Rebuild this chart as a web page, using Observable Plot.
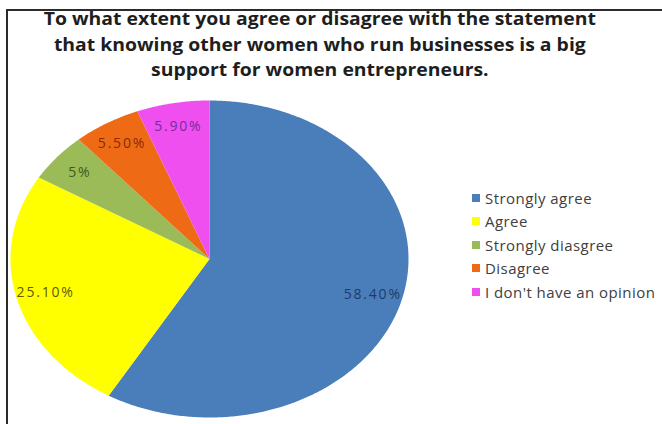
<!DOCTYPE html>
<html><head><meta charset="utf-8">
<script src="https://cdn.jsdelivr.net/npm/d3@7"></script>
<script src="https://cdn.jsdelivr.net/npm/@observablehq/plot@0.6"></script>
<style>
body{margin:0;background:#fff;}
#wrap{position:relative;width:662px;height:424px;overflow:hidden;background:#fff;font-family:"Open Sans",sans-serif;}
#frame{position:absolute;left:6px;top:9px;width:800px;height:600px;border-left:2px solid #2b2b2b;border-top:2px solid #2b2b2b;}
#title{position:absolute;left:0;top:6px;width:640px;text-align:center;font-weight:700;font-size:17px;line-height:25.5px;color:#1e1e1e;transform:scaleX(1.14);transform-origin:321px 0;}
#chart{position:absolute;left:0;top:0;}
#legend{position:absolute;left:472px;top:186px;width:320px;}
#legend .leg-swatch{height:23.5px;padding:0;display:flex;align-items:center;}
#legend .leg-swatch > svg{margin-right:5px;}
#legend .leg-swatch-label{overflow:visible;text-overflow:clip;white-space:nowrap;letter-spacing:0.45px;}
</style>
</head><body>
<div id="wrap">
  <div id="frame"></div>
  <div id="title">To what extent you agree or disagree with the statement<br>that knowing other women who run businesses is a big<br>support for women entrepreneurs.</div>
  <div id="chart"></div>
  <div id="legend"></div>
</div>
<script>
const categories = ["Strongly agree", "Agree", "Strongly diasgree", "Disagree", "I don't have an opinion"];
const values = [58.4, 25.1, 5, 5.5, 5.9];
const pieLabels = ["58.40%", "25.10%", "5%", "5.50%", "5.90%"];
const colors = ["#4a7ebb", "#ffff00", "#9bbb59", "#ef6a14", "#ee4fee"];
const labelColors = ["#1f3a66", "#5c5c00", "#3e5a1c", "#8a2a06", "#7a2a9a"];

const arcs = d3.pie().sort(null).value(d => d)(values);
const pts = [];
arcs.forEach((a, i) => {
  pts.push({cat: categories[i], x: 0, y: 0});
  const n = Math.max(4, Math.ceil((a.endAngle - a.startAngle) / 0.01));
  for (let k = 0; k <= n; k++) {
    const t = a.startAngle + (a.endAngle - a.startAngle) * k / n;
    pts.push({cat: categories[i], x: Math.sin(t), y: Math.cos(t)});
  }
});
const lbl = arcs.map((a, i) => {
  const m = (a.startAngle + a.endAngle) / 2;
  const r = 0.85;
  return {text: pieLabels[i], x: r * Math.sin(m), y: r * Math.cos(m), c: labelColors[i]};
});

const color = {domain: categories, range: colors};
const chart = Plot.plot({
  width: 662, height: 424,
  margin: 0,
  x: {domain: [-1, 1], range: [10, 408], axis: null},
  y: {domain: [-1, 1], range: [417, 100], axis: null},
  color,
  style: {background: "transparent", fontFamily: "'Open Sans', sans-serif", letterSpacing: "1.8px"},
  marks: [
    Plot.line(pts, {x: "x", y: "y", z: "cat", fill: "cat", stroke: null, curve: "linear-closed"}),
    Plot.text(lbl, {x: "x", y: "y", text: "text", fill: d => d.c, fontSize: 14})
  ]
});
document.getElementById("chart").appendChild(chart);

const leg = Plot.legend({
  color,
  legend: "swatches",
  columns: 1,
  className: "leg",
  swatchSize: 8,
  style: {fontSize: "15px", fontFamily: "'Open Sans', sans-serif", color: "#404040", margin: 0}
});
document.getElementById("legend").appendChild(leg);
</script>
</body></html>
